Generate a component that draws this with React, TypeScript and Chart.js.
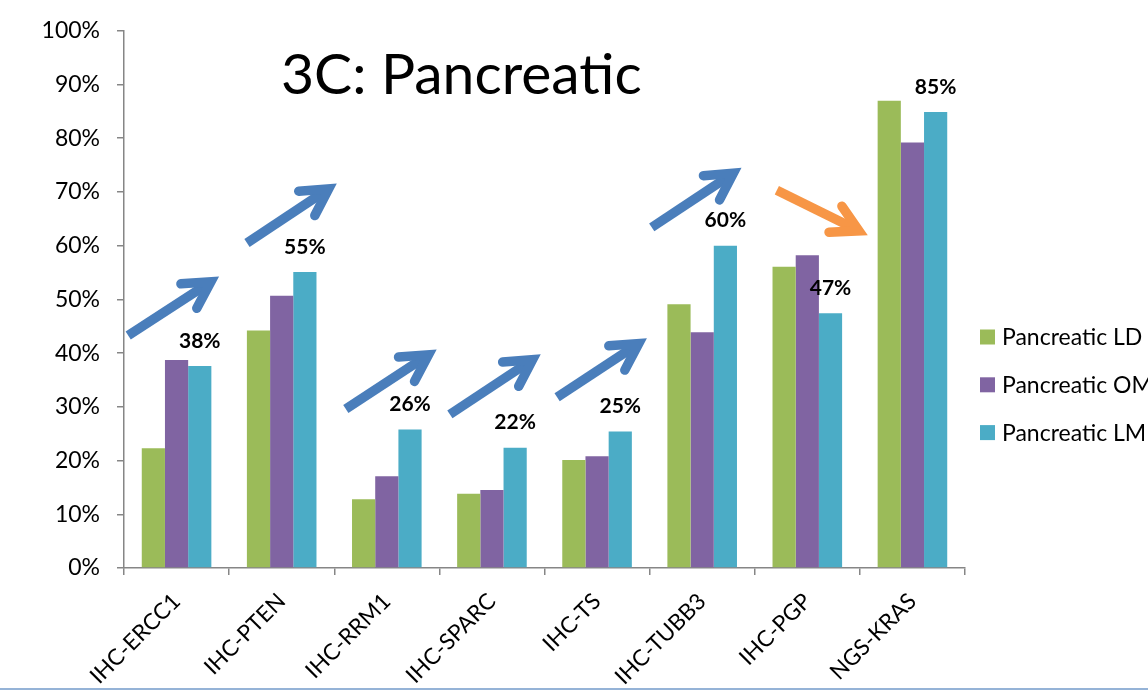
import React, { useEffect, useRef } from 'react';
import { Chart, registerables } from 'chart.js';

Chart.register(...registerables);

// Marker categories along the x axis
const categories = ['IHC-ERCC1', 'IHC-PTEN', 'IHC-RRM1', 'IHC-SPARC', 'IHC-TS', 'IHC-TUBB3', 'IHC-PGP', 'NGS-KRAS'];

// Series names and values (percent)
const seriesNames = ['Pancreatic LD', 'Pancreatic OM', 'Pancreatic LM'];
const pancreaticLD = [22.3, 44.2, 12.8, 13.8, 20.1, 49.1, 56.1, 87.0];
const pancreaticOM = [38.7, 50.7, 17.1, 14.5, 20.8, 43.9, 58.2, 79.2];
const pancreaticLM = [37.6, 55.1, 25.8, 22.4, 25.4, 60.0, 47.4, 84.9];
const seriesColors = ['#9BBB59', '#8064A2', '#4BACC6'];

// Y axis range and step (percent)
const yMin = 0;
const yMax = 100;
const yStep = 10;

const chartTitle = '3C: Pancreatic';

// Trend arrows, each given as [category position, percent] for tail and head
const trendArrows: { from: [number, number]; to: [number, number]; color: string }[] = [
  { from: [-0.46, 43.3], to: [0.39, 54.1], color: '#4A7EBB' },
  { from: [0.67, 60.5], to: [1.51, 71.4], color: '#4A7EBB' },
  { from: [1.61, 29.6], to: [2.46, 40.5], color: '#4A7EBB' },
  { from: [2.6, 28.6], to: [3.45, 39.6], color: '#4A7EBB' },
  { from: [3.62, 31.8], to: [4.46, 42.6], color: '#4A7EBB' },
  { from: [4.52, 63.4], to: [5.36, 74.3], color: '#4A7EBB' },
  { from: [5.71, 70.3], to: [6.56, 62.1], color: '#F79646' },
];

const FONT = 'Lato, "Open Sans", "DejaVu Sans", sans-serif';

const titlePlugin = {
  id: 'panelTitle',
  afterDraw(chart: any) {
    const { ctx, chartArea } = chart;
    ctx.save();
    ctx.font = `57px ${FONT}`;
    ctx.fillStyle = '#000';
    ctx.textAlign = 'left';
    ctx.textBaseline = 'alphabetic';
    ctx.fillText(chartTitle, chartArea.left + 157, 93.5);
    ctx.restore();
  },
};

const arrowPlugin = {
  id: 'trendArrows',
  afterDatasetsDraw(chart: any) {
    const { ctx, scales } = chart;
    const xs = scales.x;
    const ys = scales.y;
    ctx.save();
    trendArrows.forEach((a) => {
      const x0 = xs.getPixelForValue(a.from[0]);
      const y0 = ys.getPixelForValue(a.from[1]);
      const x1o = xs.getPixelForValue(a.to[0]);
      const y1o = ys.getPixelForValue(a.to[1]);
      const dx = x1o - x0;
      const dy = y1o - y0;
      const len = Math.hypot(dx, dy);
      const ux = dx / len;
      const uy = dy / len;
      // pull the stroke tip back so the mitred point lands on the head position
      const x1 = x1o - ux * 8;
      const y1 = y1o - uy * 8;
      const back = Math.atan2(-uy, -ux);
      const spread = (29 * Math.PI) / 180;
      const arm = 30;
      ctx.strokeStyle = a.color;
      ctx.lineWidth = 9.5;
      ctx.lineCap = 'butt';
      ctx.beginPath();
      ctx.moveTo(x0, y0);
      ctx.lineTo(x1 - ux * 4, y1 - uy * 4);
      ctx.stroke();
      ctx.lineJoin = 'miter';
      ctx.miterLimit = 10;
      ctx.lineCap = 'round';
      ctx.beginPath();
      ctx.moveTo(x1 + Math.cos(back + spread) * arm, y1 + Math.sin(back + spread) * arm);
      ctx.lineTo(x1, y1);
      ctx.lineTo(x1 + Math.cos(back - spread) * arm, y1 + Math.sin(back - spread) * arm);
      ctx.stroke();
    });
    ctx.restore();
  },
};

const valueLabelPlugin = {
  id: 'lmValueLabels',
  afterDatasetsDraw(chart: any) {
    const { ctx } = chart;
    const meta = chart.getDatasetMeta(2);
    ctx.save();
    ctx.font = `bold 21px ${FONT}`;
    ctx.fillStyle = '#000';
    ctx.textAlign = 'center';
    ctx.textBaseline = 'middle';
    meta.data.forEach((bar: any, i: number) => {
      const v = chart.data.datasets[2].data[i] as number;
      ctx.fillText(`${Math.round(v)}%`, bar.x, bar.y - 25);
    });
    ctx.restore();
  },
};

const legendPlugin = {
  id: 'sideLegend',
  afterDraw(chart: any) {
    const { ctx, chartArea } = chart;
    ctx.save();
    ctx.font = `23px ${FONT}`;
    ctx.textAlign = 'left';
    ctx.textBaseline = 'middle';
    chart.data.datasets.forEach((ds: any, i: number) => {
      const cy = 337 + i * 47.8;
      const x = chartArea.right + 15;
      ctx.fillStyle = ds.backgroundColor;
      ctx.fillRect(x, cy - 7.5, 15, 15);
      ctx.fillStyle = '#000';
      ctx.fillText(ds.label, x + 22, cy + 1);
    });
    ctx.restore();
  },
};

export default function App() {
  const canvasRef = useRef<HTMLCanvasElement | null>(null);

  useEffect(() => {
    if (!canvasRef.current) return;
    const axisColor = '#868686';
    const chart = new Chart(canvasRef.current, {
      type: 'bar',
      data: {
        labels: categories,
        datasets: [pancreaticLD, pancreaticOM, pancreaticLM].map((values, i) => ({
          label: seriesNames[i],
          data: values,
          backgroundColor: seriesColors[i],
          borderWidth: 0,
          categoryPercentage: 0.662,
          barPercentage: 1.0,
        })),
      },
      options: {
        responsive: false,
        animation: false,
        layout: { padding: { left: 0, right: 183, top: 30, bottom: 0 } },
        plugins: {
          legend: { display: false },
          title: { display: false },
          tooltip: { enabled: false },
        },
        scales: {
          x: {
            afterFit(scale: any) {
              scale.height = 123;
            },
            grid: {
              offset: true,
              drawOnChartArea: false,
              drawTicks: true,
              tickLength: 7,
              color: axisColor,
              lineWidth: 1.5,
            },
            border: { color: axisColor, width: 1.5 },
            ticks: {
              minRotation: 45,
              maxRotation: 45,
              padding: 13,
              color: '#000',
              font: { family: FONT, size: 22.5 },
            },
          },
          y: {
            min: yMin,
            max: yMax,
            afterFit(scale: any) {
              scale.width = 124;
            },
            grid: {
              drawOnChartArea: false,
              drawTicks: true,
              tickLength: 7,
              color: axisColor,
              lineWidth: 1.5,
            },
            border: { color: axisColor, width: 1.5 },
            ticks: {
              stepSize: yStep,
              padding: 17,
              color: '#000',
              font: { family: FONT, size: 23 },
              callback: (v: any) => `${v}%`,
            },
          },
        },
      },
      plugins: [arrowPlugin, valueLabelPlugin, titlePlugin, legendPlugin],
    });
    return () => chart.destroy();
  }, []);

  return (
    <div
      style={{
        position: 'fixed',
        left: 0,
        top: 0,
        width: 1148,
        height: 691,
        overflow: 'hidden',
        background: '#ffffff',
      }}
    >
      <canvas ref={canvasRef} width={1148} height={691} style={{ display: 'block' }} />
      <div
        style={{
          position: 'absolute',
          left: 0,
          top: 688,
          width: 1148,
          height: 2,
          background: '#95B3D7',
        }}
      />
    </div>
  );
}
